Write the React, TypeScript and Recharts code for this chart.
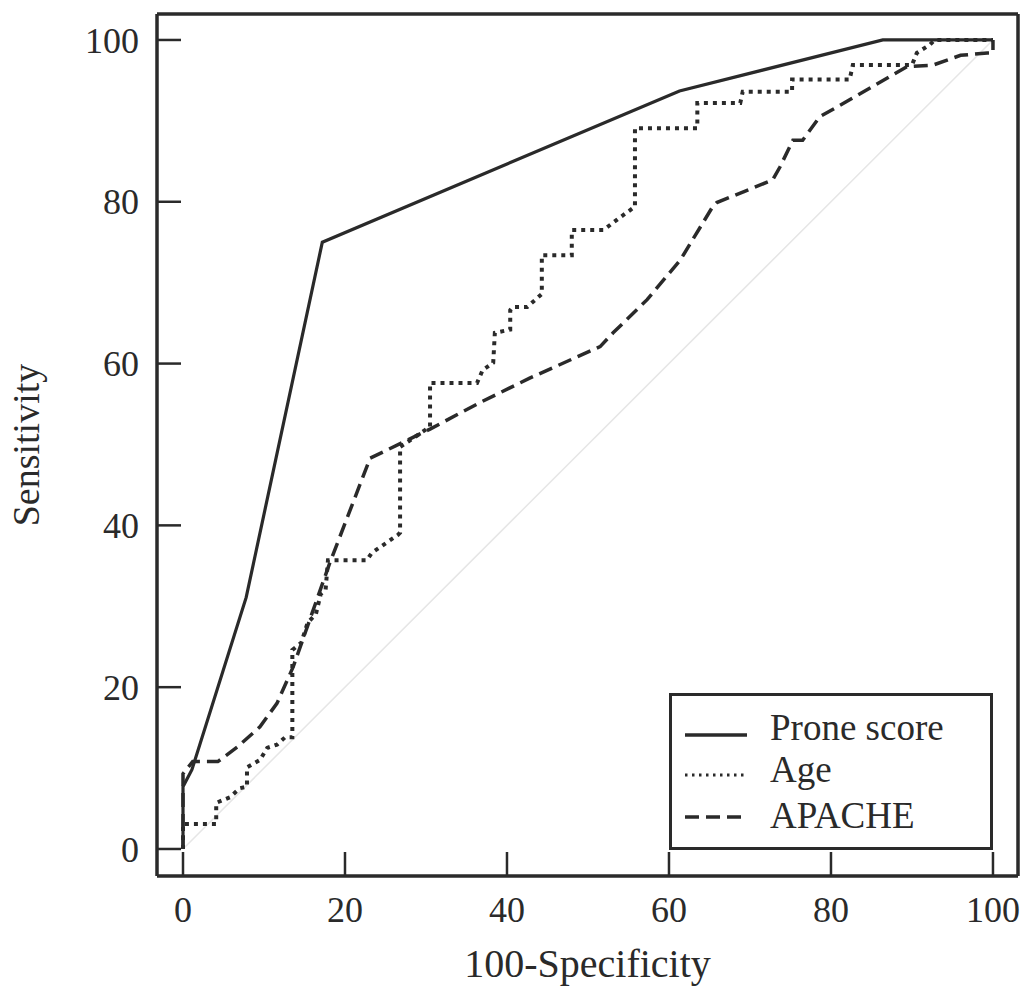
import {
  ComposedChart,
  Legend,
  Line,
  ReferenceLine,
  XAxis,
  YAxis,
} from "recharts";

// ROC curves: [100-specificity, sensitivity]
const PRONE_SCORE: [number, number][] = [
  [0, 0], [0, 7.7], [1.1, 9.8], [7.8, 31.1], [17.2, 75], [61.3, 93.7], [86.4, 100], [100, 100],
];

const AGE: [number, number][] = [
  [0, 0], [0, 3.1], [4.1, 3.1], [4.1, 5.7], [5.8, 6.4], [7.0, 7.5], [7.9, 7.7], [7.9, 10.1],
  [9.5, 11.0], [10.4, 12.5], [11.6, 12.9], [12.6, 13.8], [13.5, 13.8], [13.5, 24.6],
  [14.6, 25.5], [15.4, 28.0], [16.4, 29.0], [17.0, 31.5], [17.6, 32.0], [17.9, 35.7],
  [22.7, 35.7], [23.3, 36.6], [26.5, 38.8], [26.8, 39.1], [26.8, 49.7], [28.6, 50.9],
  [30.5, 52.2], [30.5, 57.6], [36.3, 57.6], [37.0, 59.2], [38.3, 60.1], [38.5, 63.8],
  [40.4, 64.2], [40.4, 66.6], [40.7, 67.0], [42.5, 67.0], [44.3, 68.6], [44.3, 73.4],
  [48.0, 73.4], [48.0, 76.5], [51.9, 76.5], [54.0, 78.1], [55.8, 79.4], [55.8, 89.1],
  [63.5, 89.1], [63.5, 92.2], [68.8, 92.2], [69.1, 93.6], [75.2, 93.6], [75.2, 95.1],
  [82.3, 95.1], [82.7, 96.9], [90.0, 96.9], [90.6, 98.4], [92.2, 99.4], [92.8, 100], [100, 100],
];

const APACHE: [number, number][] = [
  [0, 0], [0, 9.3], [1.2, 10.8], [4.3, 10.8], [6.7, 12.6], [9.5, 15.1], [11.6, 18.0],
  [13.6, 22.5], [18.1, 35.3], [23.1, 48.3], [30.5, 51.9], [36.7, 55.2], [42.8, 58.2],
  [51.5, 62.1], [53.1, 63.8], [57.3, 67.9], [61.4, 72.8], [65.4, 79.4], [65.9, 79.9],
  [72.8, 82.7], [73.7, 84.3], [75.3, 87.6], [76.5, 87.6], [78.6, 90.5], [82.3, 92.6],
  [89.4, 96.7], [92.6, 96.9], [96.0, 98.1], [99.3, 98.4], [100, 98.4], [100, 100],
];

const X_TICKS = [0, 20, 40, 60, 80, 100];
const Y_TICKS = [0, 20, 40, 60, 80, 100];
const X_DOMAIN: [number, number] = [-3.21, 103.09];
const Y_DOMAIN: [number, number] = [-3.34, 103.21];

const FONT = '"Liberation Serif", "Times New Roman", serif';
const INK = "#2a2a2a";
const TICK_LEN = 24;

const DOTTED = "4 5";
const DASHED = "14 7";

const toPoints = (pts: [number, number][]) => pts.map(([x, y]) => ({ x, y }));

function XTick(props: any) {
  const { x, y, payload } = props;
  return (
    <g>
      <line x1={x} x2={x} y1={y} y2={y - TICK_LEN} stroke={INK} strokeWidth={2.5} />
      <text x={x} y={y + 46} textAnchor="middle" fontSize={36} fontFamily={FONT} fill={INK}>
        {payload.value}
      </text>
    </g>
  );
}

function YTick(props: any) {
  const { x, y, payload } = props;
  return (
    <g>
      <line x1={x} x2={x + TICK_LEN} y1={y} y2={y} stroke={INK} strokeWidth={2.5} />
      <text x={x - 18} y={y} dy="0.35em" textAnchor="end" fontSize={36} fontFamily={FONT} fill={INK}>
        {payload.value}
      </text>
    </g>
  );
}

function YLabel(props: any) {
  const { viewBox } = props;
  const cx = 39;
  const cy = viewBox.y + viewBox.height / 2;
  return (
    <text
      x={cx}
      y={cy}
      transform={`rotate(-90, ${cx}, ${cy})`}
      textAnchor="middle"
      fontSize={38}
      fontFamily={FONT}
      fill={INK}
    >
      Sensitivity
    </text>
  );
}

function LegendBox() {
  const rows = [
    { name: "Prone score", dash: undefined, y: 42, base: 47 },
    { name: "Age", dash: "2.5 4.5", y: 82, base: 89 },
    { name: "APACHE", dash: DASHED, y: 124, base: 135 },
  ];
  return (
    <svg width={324} height={157} style={{ display: "block" }}>
      <rect x={1.5} y={1.5} width={321} height={154} fill="#fff" stroke={INK} strokeWidth={3} />
      {rows.map((r) => (
        <g key={r.name}>
          <line
            x1={16}
            x2={78}
            y1={r.y}
            y2={r.y}
            stroke={INK}
            strokeWidth={r.name === "Age" ? 3 : 3.5}
            strokeDasharray={r.dash}
          />
          <text x={101} y={r.base} fontSize={37} fontFamily={FONT} fill={INK}>
            {r.name}
          </text>
        </g>
      ))}
    </svg>
  );
}

export default function App() {
  return (
    <div style={{ position: "absolute", left: 0, top: 0, width: 1024, height: 990, background: "#fff" }}>
      <ComposedChart width={1024} height={990} margin={{ top: 14, right: 6, bottom: 0, left: 0 }}>
        <XAxis
          type="number"
          dataKey="x"
          domain={X_DOMAIN}
          ticks={X_TICKS}
          allowDataOverflow
          height={114}
          tickSize={0}
          tickMargin={0}
          tick={<XTick />}
          axisLine={{ stroke: INK, strokeWidth: 3.5 }}
          tickLine={false}
          label={{
            value: "100-Specificity",
            position: "insideBottom",
            offset: 13,
            fontSize: 40,
            fontFamily: FONT,
            fill: INK,
          }}
        />
        <YAxis
          type="number"
          dataKey="y"
          domain={Y_DOMAIN}
          ticks={Y_TICKS}
          allowDataOverflow
          width={157}
          tickSize={0}
          tickMargin={0}
          tick={<YTick />}
          axisLine={{ stroke: INK, strokeWidth: 3.5 }}
          tickLine={false}
          label={<YLabel />}
        />
        {/* top and right edges of the frame */}
        <ReferenceLine y={Y_DOMAIN[1]} stroke={INK} strokeWidth={3.5} ifOverflow="visible" />
        <ReferenceLine x={X_DOMAIN[1]} stroke={INK} strokeWidth={3.5} ifOverflow="visible" />
        <ReferenceLine
          segment={[{ x: 0, y: 0 }, { x: 100, y: 100 }]}
          stroke="#e6e6e6"
          strokeWidth={1.5}
        />
        <Line
          data={toPoints(APACHE)}
          dataKey="y"
          type="linear"
          stroke={INK}
          strokeWidth={3.5}
          strokeDasharray={DASHED}
          dot={false}
          isAnimationActive={false}
        />
        <Line
          data={toPoints(AGE)}
          dataKey="y"
          type="linear"
          stroke={INK}
          strokeWidth={4}
          strokeDasharray={DOTTED}
          dot={false}
          isAnimationActive={false}
        />
        <Line
          data={toPoints(PRONE_SCORE)}
          dataKey="y"
          type="linear"
          stroke={INK}
          strokeWidth={3.2}
          dot={false}
          isAnimationActive={false}
        />
        <Legend
          layout="vertical"
          align="center"
          verticalAlign="middle"
          content={() => <LegendBox />}
          wrapperStyle={{ left: 669, top: 693, width: 324, height: 157 }}
        />
      </ComposedChart>
    </div>
  );
}
